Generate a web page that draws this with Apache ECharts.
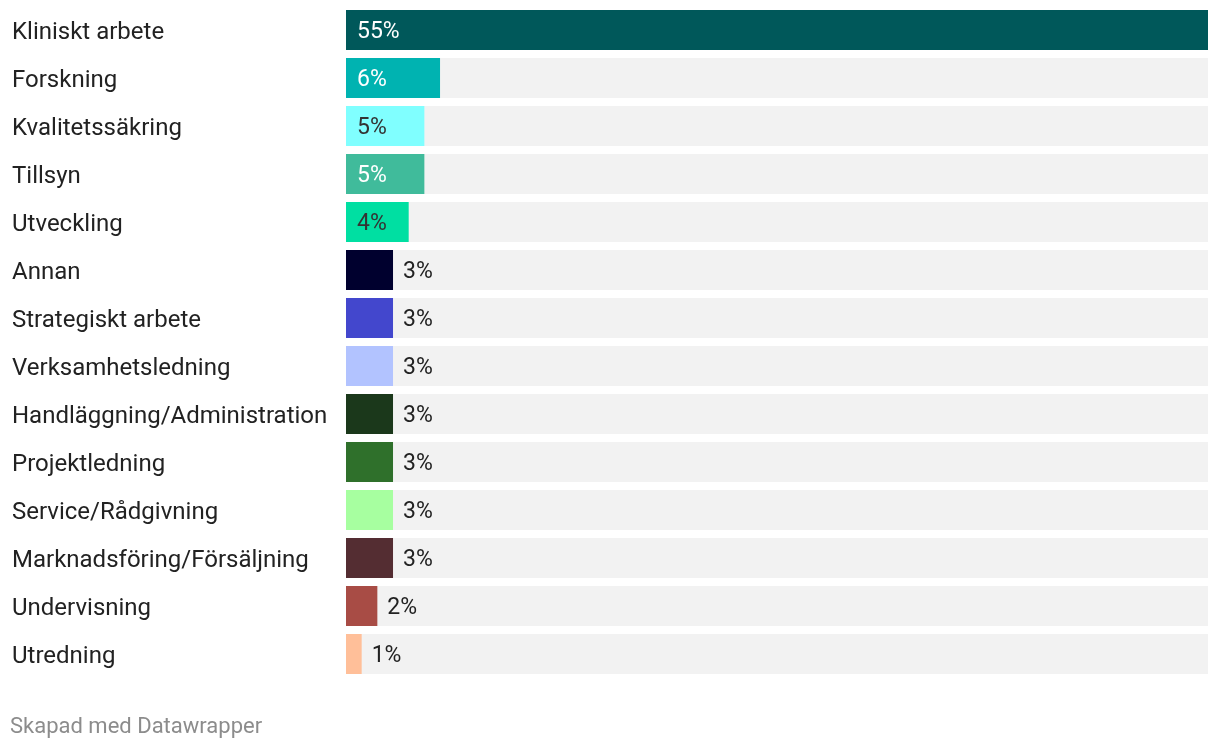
<!DOCTYPE html>
<html>
<head>
<meta charset="utf-8">
<script src="https://cdn.jsdelivr.net/npm/echarts@6/dist/echarts.min.js"></script>
<style>
html,body{margin:0;padding:0;background:#fff;}
#chart{width:1220px;height:750px;}
</style>
</head>
<body>
<div id="chart"></div>
<script>
const categories = ["Kliniskt arbete","Forskning","Kvalitetssäkring","Tillsyn","Utveckling","Annan","Strategiskt arbete","Verksamhetsledning","Handläggning/Administration","Projektledning","Service/Rådgivning","Marknadsföring/Försäljning","Undervisning","Utredning"];
const values = [55,6,5,5,4,3,3,3,3,3,3,3,2,1];
const barColors = ["#00585a","#00b3b1","#80ffff","#40bb9b","#00dfa2","#00002e","#4347cd","#b2c3ff","#1b381b","#2f702b","#a7ffa0","#542d32","#a84c45","#ffbf99"];
const insideLabelColors = ["#ffffff","#ffffff","#333333","#ffffff","#333333"];
const axisMax = 55;

const chart = echarts.init(document.getElementById('chart'));
const font = 'Roboto';
const mainData = values.map((v, i) => {
  const inside = i < insideLabelColors.length;
  return {
    value: v,
    itemStyle: { color: barColors[i] },
    label: inside
      ? { position: 'insideLeft', distance: 11, color: insideLabelColors[i] }
      : { position: 'right', distance: 10, color: '#222222' }
  };
});

chart.setOption({
  animation: false,
  title: {
    text: 'Skapad med Datawrapper',
    left: 10, top: 716,
    padding: 0,
    textStyle: { fontFamily: font, fontSize: 22, fontWeight: 'normal', color: '#8c8c8c' }
  },
  grid: { left: 346, right: 12, top: 6, bottom: 72 },
  xAxis: { type: 'value', min: 0, max: axisMax, show: false },
  yAxis: {
    type: 'category', inverse: true, data: categories,
    axisLine: { show: false }, axisTick: { show: false }, splitLine: { show: false },
    axisLabel: {
      align: 'left', margin: 334, fontFamily: font, fontSize: 24, color: '#222222',
      formatter: v => '{t|' + v + '}',
      rich: { t: { fontFamily: font, fontSize: 24, color: '#222222', padding: [5, 0, 0, 0] } }
    }
  },
  series: [
    {
      type: 'bar', silent: true, barWidth: 40, barGap: '-100%',
      itemStyle: { color: '#f2f2f2' },
      data: categories.map(() => axisMax)
    },
    {
      type: 'bar', barWidth: 40, barGap: '-100%',
      label: {
        show: true, fontFamily: font, fontSize: 23,
        formatter: p => '{v|' + p.value + '%}',
        rich: { v: { fontFamily: font, fontSize: 23, padding: [5, 0, 0, 0] } }
      },
      data: mainData
    }
  ]
});
</script>
</body>
</html>
